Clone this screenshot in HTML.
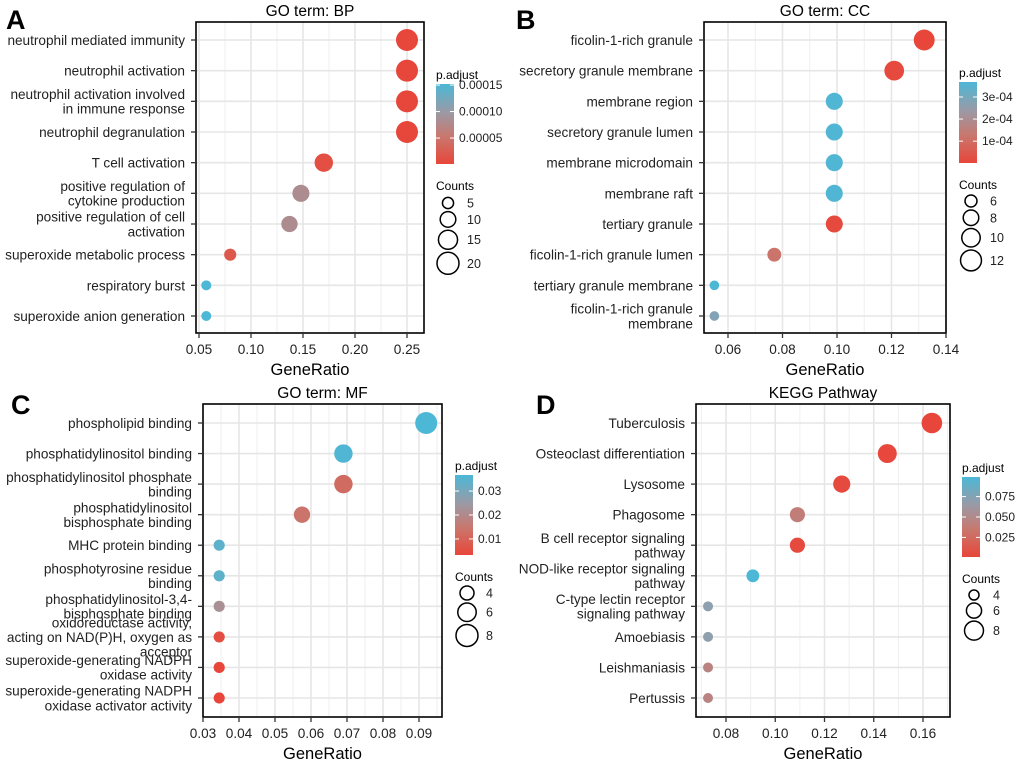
<!DOCTYPE html>
<html><head><meta charset="utf-8">
<style>
html,body{margin:0;padding:0;background:#fff;}
svg{display:block;font-family:"Liberation Sans",Arial,sans-serif;}
</style></head>
<body>
<svg id="fig" width="1020" height="763" viewBox="0 0 1020 763" xmlns="http://www.w3.org/2000/svg">
<defs>
<linearGradient id="cbgrad" x1="0" y1="1" x2="0" y2="0">
<stop offset="0" stop-color="#E8463A"/>
<stop offset="0.35" stop-color="#C8786F"/>
<stop offset="0.65" stop-color="#9A9AA6"/>
<stop offset="1" stop-color="#4CB8D6"/>
</linearGradient>
</defs>
</svg>
<script>
// ---- Panel A data (GO BP) ----
const bpTerms = ["neutrophil mediated immunity","neutrophil activation","neutrophil activation involved\nin immune response","neutrophil degranulation","T cell activation","positive regulation of\ncytokine production","positive regulation of cell\nactivation","superoxide metabolic process","respiratory burst","superoxide anion generation"];
const bpRatio = [0.25,0.25,0.25,0.25,0.17,0.148,0.137,0.08,0.057,0.057];
const bpCounts = [20,20,20,20,14,12,11,6,4,4];
const bpPadj = [0.000002,0.000002,0.000002,0.000002,0.00001,0.00008,0.00008,0.00002,0.000152,0.000152];
const bpXTicks = [0.05,0.10,0.15,0.20,0.25];
const bpXTickLabels = ["0.05","0.10","0.15","0.20","0.25"];
const bpCbTicks = [0.00005,0.0001,0.00015];
const bpCbLabels = ["0.00005","0.00010","0.00015"];
const bpSizeLegend = [5,10,15,20];

// ---- Panel B data (GO CC) ----
const ccTerms = ["ficolin-1-rich granule","secretory granule membrane","membrane region","secretory granule lumen","membrane microdomain","membrane raft","tertiary granule","ficolin-1-rich granule lumen","tertiary granule membrane","ficolin-1-rich granule\nmembrane"];
const ccRatio = [0.132,0.121,0.099,0.099,0.099,0.099,0.099,0.077,0.055,0.055];
const ccCounts = [12,11,9,9,9,9,9,7,5,5];
const ccPadj = [0.000001,0.00001,0.00036,0.00036,0.00036,0.00036,0.00001,0.00012,0.000368,0.00028];
const ccXTicks = [0.06,0.08,0.10,0.12,0.14];
const ccXTickLabels = ["0.06","0.08","0.10","0.12","0.14"];
const ccCbTicks = [0.0001,0.0002,0.0003];
const ccCbLabels = ["1e-04","2e-04","3e-04"];
const ccSizeLegend = [6,8,10,12];

// ---- Panel C data (GO MF) ----
const mfTerms = ["phospholipid binding","phosphatidylinositol binding","phosphatidylinositol phosphate\nbinding","phosphatidylinositol\nbisphosphate binding","MHC protein binding","phosphotyrosine residue\nbinding","phosphatidylinositol-3,4-\nbisphosphate binding","oxidoreductase activity,\nacting on NAD(P)H, oxygen as\nacceptor","superoxide-generating NADPH\noxidase activity","superoxide-generating NADPH\noxidase activator activity"];
const mfRatio = [0.092,0.069,0.069,0.0575,0.0345,0.0345,0.0345,0.0345,0.0345,0.0345];
const mfCounts = [8,6,6,5,3,3,3,3,3,3];
const mfPadj = [0.0367,0.036,0.012,0.014,0.034,0.034,0.022,0.005,0.0033,0.0033];
const mfXTicks = [0.03,0.04,0.05,0.06,0.07,0.08,0.09];
const mfXTickLabels = ["0.03","0.04","0.05","0.06","0.07","0.08","0.09"];
const mfCbTicks = [0.01,0.02,0.03];
const mfCbLabels = ["0.01","0.02","0.03"];
const mfSizeLegend = [4,6,8];

// ---- Panel D data (KEGG) ----
const kgTerms = ["Tuberculosis","Osteoclast differentiation","Lysosome","Phagosome","B cell receptor signaling\npathway","NOD-like receptor signaling\npathway","C-type lectin receptor\nsignaling pathway","Amoebiasis","Leishmaniasis","Pertussis"];
const kgRatio = [0.1636,0.1455,0.127,0.109,0.109,0.0909,0.0727,0.0727,0.0727,0.0727];
const kgCounts = [9,8,7,6,6,5,4,4,4,4];
const kgPadj = [0.001,0.002,0.003,0.04,0.003,0.099,0.07,0.07,0.045,0.045];
const kgXTicks = [0.08,0.10,0.12,0.14,0.16];
const kgXTickLabels = ["0.08","0.10","0.12","0.14","0.16"];
const kgCbTicks = [0.025,0.05,0.075];
const kgCbLabels = ["0.025","0.050","0.075"];
const kgSizeLegend = [4,6,8];

const NS = "http://www.w3.org/2000/svg";
const svg = document.getElementById("fig");
function mk(tag, attrs, parent){
  const e = document.createElementNS(NS, tag);
  for (const k in attrs) e.setAttribute(k, attrs[k]);
  (parent||svg).appendChild(e);
  return e;
}
const stops = [[0,[232,70,58]],[0.35,[200,120,111]],[0.65,[154,154,166]],[1,[76,184,214]]];
function colorAt(t){
  t = Math.max(0,Math.min(1,t));
  for (let i=1;i<stops.length;i++){
    if (t<=stops[i][0]){
      const a=stops[i-1], b=stops[i], f=(t-a[0])/(b[0]-a[0]);
      const c=a[1].map((v,j)=>Math.round(v+(b[1][j]-v)*f));
      return "rgb("+c.join(",")+")";
    }
  }
  return "rgb(76,184,214)";
}

function panel(cfg){
  const g = mk("g",{});
  
  
  const L=cfg.box[0], T=cfg.box[1], R=cfg.box[2], B=cfg.box[3];
  const xScale = v => cfg.x0px + (v - cfg.x0)/(cfg.x1 - cfg.x0)*(cfg.x1px - cfg.x0px);
  const n = cfg.terms.length;
  const yScale = i => cfg.y0 + i*(cfg.y1 - cfg.y0)/(n-1);
  const rad = c => Math.sqrt(Math.max(16, cfg.ra + cfg.rb*c));
  const lt = mk("text",{x:cfg.letter[0],y:cfg.letter[1],"font-size":27,"font-weight":"bold",fill:"#000"},g);
  lt.textContent = cfg.letterText;
  
  
  const tt = mk("text",{x:(L+R)/2,y:T-6,"font-size":15.5,"text-anchor":"middle",fill:"#000"},g);
  tt.textContent = cfg.title;
  
  
  const step = cfg.xTicks[1]-cfg.xTicks[0];
  const minors = [];
  for (let v=cfg.xTicks[0]-step/2; v<=cfg.xTicks[cfg.xTicks.length-1]+step/2+1e-9; v+=step) minors.push(v);
  minors.forEach(v=>{const px=xScale(v); if(px>L&&px<R) mk("line",{x1:px,x2:px,y1:T,y2:B,stroke:"#EFEFEF","stroke-width":1},g);});
  cfg.xTicks.forEach(v=>{const px=xScale(v); if(px>=L&&px<=R) mk("line",{x1:px,x2:px,y1:T,y2:B,stroke:"#E6E6E6","stroke-width":1.6},g);});
  for (let i=0;i<n;i++){ const py=yScale(i); mk("line",{x1:L,x2:R,y1:py,y2:py,stroke:"#E6E6E6","stroke-width":1.6},g); }
  for (let i=0;i<n;i++){
    const t = (cfg.padj[i]-cfg.pmin)/(cfg.pmax-cfg.pmin);
    const c = mk("circle",{cx:xScale(cfg.ratio[i]),cy:yScale(i),r:rad(cfg.counts[i]),fill:colorAt(t)},g);
    
    
  }
  const fr = mk("rect",{x:L,y:T,width:R-L,height:B-T,fill:"none",stroke:"#000","stroke-width":1.6},g);
  
  
  for (let i=0;i<n;i++){
    const py=yScale(i);
    mk("line",{x1:L-5,x2:L,y1:py,y2:py,stroke:"#333","stroke-width":1.3},g);
    const lines = cfg.terms[i].split("\n");
    const lh = 14.6;
    const tx = mk("text",{x:L-11,"font-size":13.6,"text-anchor":"end",fill:"#222"},g);
    
    
    lines.forEach((ln,j)=>{
      const ts = mk("tspan",{x:L-11,y:py+5+(j-(lines.length-1)/2)*lh},tx);
      ts.textContent = ln;
    });
  }
  cfg.xTicks.forEach((v,j)=>{
    const px=xScale(v);
    mk("line",{x1:px,x2:px,y1:B,y2:B+5,stroke:"#333","stroke-width":1.3},g);
    const tx = mk("text",{x:px,y:B+21,"font-size":13.6,"text-anchor":"middle",fill:"#222"},g);
    tx.textContent = cfg.xTickLabels[j];
    
    
  });
  const xt = mk("text",{x:(L+R)/2,y:B+42,"font-size":16.5,"text-anchor":"middle",fill:"#000"},g);
  xt.textContent = "GeneRatio";
  
  
  const cb=cfg.cb;
  const ct = mk("text",{x:cb[0],y:cb[1]-5,"font-size":12,fill:"#000"},g);
  ct.textContent = "p.adjust";
  
  
  const bar = mk("rect",{x:cb[0],y:cb[1],width:18,height:cb[2]-cb[1],fill:"url(#cbgrad)"},g);
  
  
  const cbY = v => cb[2] - (v-cfg.pmin)/(cfg.pmax-cfg.pmin)*(cb[2]-cb[1]);
  cfg.cbTicks.forEach((v,j)=>{
    const py=cbY(v);
    mk("line",{x1:cb[0],x2:cb[0]+4,y1:py,y2:py,stroke:"#fff","stroke-width":1},g);
    mk("line",{x1:cb[0]+14,x2:cb[0]+18,y1:py,y2:py,stroke:"#fff","stroke-width":1},g);
    const tx = mk("text",{x:cb[0]+23,y:py+4,"font-size":12,fill:"#222"},g);
    tx.textContent = cfg.cbLabels[j];
    
    
  });
  const sl = cfg.sl;
  const st = mk("text",{x:cb[0],y:sl[1],"font-size":12,fill:"#000"},g);
  st.textContent = "Counts";
  
  
  let y = sl[2];
  cfg.sizeLegend.forEach((c,j)=>{
    const r = rad(c);
    if (j>0) y += r + 1.5;
    const ci = mk("circle",{cx:sl[0],cy:y,r:r,fill:"none",stroke:"#000","stroke-width":1.5},g);
    
    
    const tx = mk("text",{x:sl[0]+19,y:y+4.5,"font-size":12.5,fill:"#222"},g);
    tx.textContent = c;
    
    
    y += r + 1.5;
  });
}

panel({name:"panel-a-go-bp",key:"bp",letterText:"A",letter:[6,29],title:"GO term: BP",box:[196,22,424,333],
  x0:0.05,x1:0.25,x0px:199,x1px:407,y0:40,y1:316,
  terms:bpTerms,ratio:bpRatio,counts:bpCounts,padj:bpPadj,pmin:0.000001,pmax:0.000152,
  xTicks:bpXTicks,xTickLabels:bpXTickLabels,cbTicks:bpCbTicks,cbLabels:bpCbLabels,sizeLegend:bpSizeLegend,
  ra:1,rb:6,cb:[436,84,164],sl:[448,190,203]});
panel({name:"panel-b-go-cc",key:"cc",letterText:"B",letter:[516,29],title:"GO term: CC",box:[704,22,946,333],
  x0:0.06,x1:0.14,x0px:728,x1px:946,y0:40,y1:316,
  terms:ccTerms,ratio:ccRatio,counts:ccCounts,padj:ccPadj,pmin:0.000001,pmax:0.000368,
  xTicks:ccXTicks,xTickLabels:ccXTickLabels,cbTicks:ccCbTicks,cbLabels:ccCbLabels,sizeLegend:ccSizeLegend,
  ra:-38,rb:12.3,cb:[959,82,163],sl:[971,189,201]});
panel({name:"panel-c-go-mf",key:"mf",letterText:"C",letter:[11,414],title:"GO term: MF",box:[203,404,442,717],
  x0:0.03,x1:0.09,x0px:203,x1px:419,y0:423,y1:698,
  terms:mfTerms,ratio:mfRatio,counts:mfCounts,padj:mfPadj,pmin:0.0033,pmax:0.0367,
  xTicks:mfXTicks,xTickLabels:mfXTickLabels,cbTicks:mfCbTicks,cbLabels:mfCbLabels,sizeLegend:mfSizeLegend,
  ra:-23,rb:18,cb:[455,475,555],sl:[467,581,593]});
panel({name:"panel-d-kegg",key:"kg",letterText:"D",letter:[536,414],title:"KEGG Pathway",box:[696,404,950,717],
  x0:0.08,x1:0.16,x0px:726,x1px:923,y0:423,y1:698,
  terms:kgTerms,ratio:kgRatio,counts:kgCounts,padj:kgPadj,pmin:0.001,pmax:0.099,
  xTicks:kgXTicks,xTickLabels:kgXTickLabels,cbTicks:kgCbTicks,cbLabels:kgCbLabels,sizeLegend:kgSizeLegend,
  ra:-40,rb:16.25,cb:[962,477,557],sl:[974,583,595]});
</script>
</body></html>
